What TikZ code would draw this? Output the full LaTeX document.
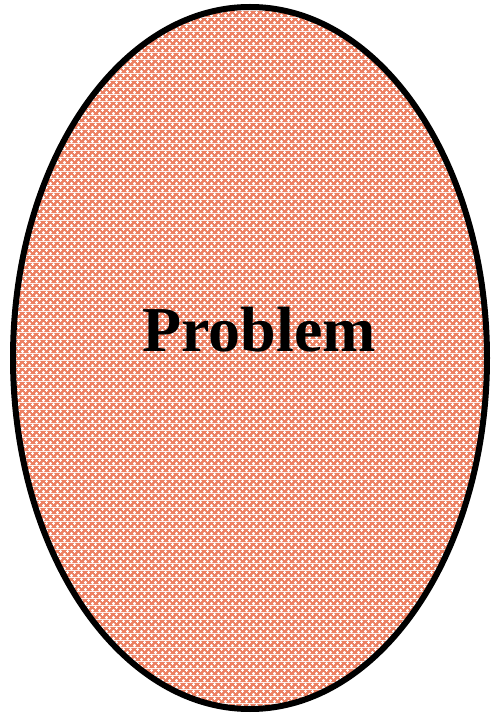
\documentclass[tikz,border=0pt]{standalone}
\usepackage{fontspec}
\setmainfont{Liberation Serif}
\usetikzlibrary{shapes.geometric,patterns.meta}
\definecolor{hatch}{HTML}{EC8062}

\tikzdeclarepattern{name=crossgrid,type=colored,
  bottom left={(0pt,0pt)},top right={(7pt,7pt)},tile size={(7pt,7pt)},
  code={
    \fill[hatch] (0pt,0pt) rectangle (7pt,7pt);
    \fill[white] (0.2pt,1.1pt) rectangle (3.3pt,2.4pt) (1.1pt,0.2pt) rectangle (2.4pt,3.3pt);
    \fill[white] (3.7pt,4.6pt) rectangle (6.8pt,5.9pt) (4.6pt,3.7pt) rectangle (5.9pt,6.8pt);
  }}

\begin{document}
\begin{tikzpicture}[x=1pt,y=1pt,blob/.style={draw=black,line width=6pt,ellipse,minimum width=474pt,minimum height=702pt,inner sep=0pt,pattern=crossgrid},word/.style={font=\bfseries\fontsize{64}{70}\selectfont,anchor=base,inner sep=0pt}]
\useasboundingbox (0,0) rectangle (492,716);
\node[blob] (problem) at (250,358) {};
\node[word] (label) at (259,364) {Problem};
\end{tikzpicture}
\end{document}
